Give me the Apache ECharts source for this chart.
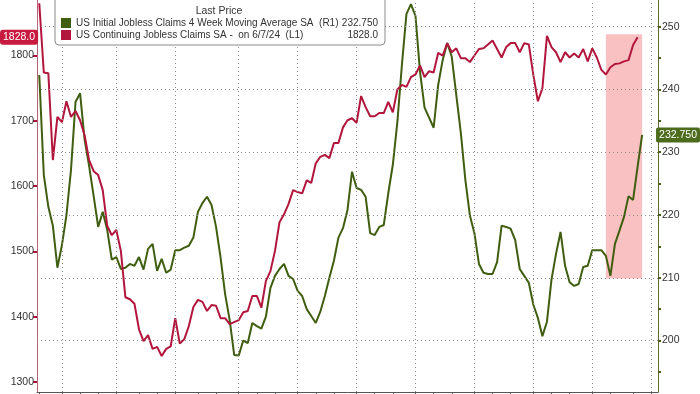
<!DOCTYPE html>
<html><head><meta charset="utf-8">
<script src="https://cdn.jsdelivr.net/npm/echarts@6/dist/echarts.min.js"></script>
<style>html,body{margin:0;padding:0;background:#fff}#c{width:700px;height:394px}</style>
</head><body><div id="c"></div>
<script>
// ---- data ----
const firstWeek = '2021-11-27';   // week-ending Saturdays
const weekCount = 137;
const continuingClaims = [1880,1774,1773,1640,1706,1698,1730,1706,1715,1701,
 1678,1640,1623,1617,1594,1539,1525,1533,1501,1430,
 1427,1420,1381,1363,1372,1351,1354,1340,1351,1355,
 1398,1359,1366,1386,1415,1426,1423,1409,1418,1417,
 1398,1398,1389,1392,1395,1407,1409,1432,1432,1414,
 1455,1470,1501,1545,1557,1573,1594,1591,1589,1609,
 1605,1635,1645,1648,1643,1666,1666,1690,1701,1704,
 1697,1738,1721,1707,1707,1712,1712,1729,1713,1748,
 1755,1752,1767,1771,1785,1767,1776,1774,1804,1800,
 1819,1805,1811,1796,1796,1790,1800,1810,1811,1817,
 1823,1810,1797,1813,1819,1819,1805,1819,1817,1770,
 1730,1750,1830,1813,1805,1790,1805,1797,1803,1797,
 1810,1791,1811,1797,1778,1771,1782,1787,1788,1791,
 1793,1816,1828];
const initialClaims4wk = [242.3,226.4,221.3,218.3,211.6,215.2,220.0,227.2,238.0,239.4,
 232.0,227.8,223.0,218.1,220.5,217.6,212.9,213.3,211.4,211.6,
 212.2,211.9,213.3,211.3,214.6,215.4,211.1,213.0,210.8,211.3,
 214.4,214.4,214.8,215.1,216.4,220.5,221.9,222.9,221.6,218.1,
 213.2,207.4,203.3,197.7,197.6,200.0,199.6,202.8,202.3,201.9,
 203.8,208.4,210.3,211.4,212.2,210.3,209.8,207.9,207.1,205.0,
 203.9,202.8,204.6,207.1,210.0,212.7,216.4,217.9,220.8,226.9,
 224.3,224.0,222.9,217.1,216.8,218.1,218.4,223.5,228.0,234.8,
 243.9,252.0,253.6,251.7,242.8,237.1,235.5,233.9,240.7,244.7,
 247.4,245.2,239.1,233.1,225.6,219.9,217.1,212.2,210.8,210.6,
 210.6,212.5,218.3,218.1,217.8,216.0,211.4,210.3,209.2,205.7,
 203.6,200.7,203.0,209.7,213.8,217.3,211.9,209.3,208.7,209.0,
 211.7,211.9,214.4,214.4,214.4,213.5,210.3,215.4,217.5,219.7,
 223.0,222.4,227.7,232.75];
const seriesNames = ['US Initial Jobless Claims 4 Week Moving Average SA', 'US Continuing Jobless Claims SA -  on 6/7/24'];
const seriesAxisTags = ['(R1)', '(L1)'];
const leftTicks = [1300,1400,1500,1600,1700,1800];
const rightTicks = [200,210,220,230,240,250];
const rightMinorTicks = [195,205,215,225,235,245];
const leftRange = [1285,1885];
const rightRange = [191.8,254.25];
const highlightWeeks = ['2024-04-20','2024-06-15'];
const highlightRight = [209.9,248.8];

// ---- build ----
function addDays(s, n){ const t = new Date(s + 'T00:00:00Z'); t.setUTCDate(t.getUTCDate() + n); return t; }
const weeks = [];
for (let i = 0; i < weekCount; i++) weeks.push(addDays(firstWeek, 7 * i).toISOString().slice(0,10));
const isMonthTick = v => addDays(v, 6).getUTCDate() <= 7;
const isQuarterTick = v => { const t = addDays(v, 6); return t.getUTCDate() <= 7 && t.getUTCMonth() % 3 === 0; };
const quarterWeeks = weeks.filter(isQuarterTick);

const FONT = "'Liberation Sans',Arial,sans-serif";
const RED = '#b3163d', GREEN = '#3f5e10';
const lastRed = continuingClaims[continuingClaims.length - 1];
const lastGreen = initialClaims4wk[initialClaims4wk.length - 1];
const lastValues = {};
lastValues[seriesNames[0]] = lastGreen.toFixed(3);
lastValues[seriesNames[1]] = lastRed.toFixed(1);
const tags = {}; tags[seriesNames[0]] = seriesAxisTags[0]; tags[seriesNames[1]] = seriesAxisTags[1];
const nulls = weeks.map(() => null);
const gridDot = {type: [1, 3], color: '#8c8c8c', width: 1};

const chart = echarts.init(document.getElementById('c'), null, {renderer: 'canvas'});
chart.setOption({
  animation: false,
  backgroundColor: '#fff',
  textStyle: {fontFamily: FONT},
  title: {
    text: 'Last Price', left: 219, top: 6, textAlign: 'center', padding: 0, z: 10,
    textStyle: {fontSize: 10.5, fontWeight: 'normal', color: '#333', fontFamily: FONT}
  },
  legend: {
    data: [seriesNames[0], seriesNames[1]],
    orient: 'vertical', left: 55, top: -6,
    padding: [23, 7, 4, 6], itemGap: 0,
    icon: 'rect', itemWidth: 10, itemHeight: 10,
    backgroundColor: '#fff', borderColor: '#8a8a8a', borderWidth: 1, borderRadius: 4,
    selectedMode: false, z: 8,
    formatter: name => '{n|' + name + '  ' + tags[name] + '}{v|' + lastValues[name] + '}',
    textStyle: {
      fontFamily: FONT, fontSize: 10, color: '#333', lineHeight: 12,
      rich: {
        n: {width: 260, fontFamily: FONT, fontSize: 10, color: '#333', lineHeight: 12},
        v: {width: 42, align: 'right', fontFamily: FONT, fontSize: 10, color: '#333', lineHeight: 12}
      }
    }
  },
  grid: {left: 37, right: 42, top: 0, bottom: 2, containLabel: false, outerBoundsMode: 'none'},
  xAxis: {
    type: 'category', data: weeks, boundaryGap: true,
    axisLine: {lineStyle: {color: '#555', width: 1}},
    axisTick: {show: true, alignWithLabel: true, interval: (i, v) => isMonthTick(v), length: 3, lineStyle: {color: '#555'}},
    axisLabel: {show: false},
    splitLine: {show: false}
  },
  yAxis: [
    {
      type: 'value', position: 'left', min: leftRange[0], max: leftRange[1],
      axisLine: {show: true, lineStyle: {color: '#b86476', width: 1}},
      axisTick: {show: true, customValues: leftTicks, length: 4, lineStyle: {color: '#a8123a', width: 2}},
      axisLabel: {customValues: leftTicks, formatter: v => String(v), color: '#333', fontSize: 10.5, fontFamily: FONT, margin: 3},
      splitLine: {show: false},
      axisPointer: {
        show: true, type: 'none', value: lastRed, status: 'show', triggerTooltip: false,
        label: {show: true, formatter: () => lastRed.toFixed(1), backgroundColor: '#c8193f', color: '#fff',
          padding: [2, 3, 2, 3], borderRadius: 3, margin: 1, fontSize: 10.5, fontFamily: FONT}
      }
    },
    {
      type: 'value', position: 'right', min: rightRange[0], max: rightRange[1],
      axisLine: {show: true, lineStyle: {color: '#5b6b2b', width: 1}},
      axisTick: {show: true, customValues: rightTicks.concat(rightMinorTicks), length: 3, lineStyle: {color: '#4a5e1c', width: 2}},
      axisLabel: {customValues: rightTicks, formatter: v => String(v), color: '#333', fontSize: 10.5, fontFamily: FONT, margin: 4},
      splitLine: {show: false},
      axisPointer: {
        show: true, type: 'none', value: lastGreen, status: 'show', triggerTooltip: false,
        label: {show: true, formatter: () => lastGreen.toFixed(3), backgroundColor: '#4c6b1c', color: '#fff',
          padding: [2, 3, 2, 3], borderRadius: 2, margin: 3, fontSize: 10.5, fontFamily: FONT}
      }
    }
  ],
  series: [
    {
      name: 'grid', type: 'line', data: nulls, yAxisIndex: 1, z: 1, silent: true,
      markLine: {
        silent: true, symbol: 'none', label: {show: false}, animation: false,
        lineStyle: gridDot, emphasis: {disabled: true},
        data: quarterWeeks.map(w => ({xAxis: w})).concat(rightTicks.map(v => ({yAxis: v})))
      }
    },
    {
      name: seriesNames[0], type: 'line', data: initialClaims4wk, yAxisIndex: 1, z: 2,
      showSymbol: false, symbol: 'none', color: GREEN,
      lineStyle: {color: GREEN, width: 2}
    },
    {
      name: seriesNames[1], type: 'line', data: continuingClaims, yAxisIndex: 0, z: 2,
      showSymbol: false, symbol: 'none', color: RED,
      lineStyle: {color: RED, width: 2}
    },
    {
      name: 'highlight', type: 'line', data: nulls, yAxisIndex: 1, z: 3, silent: true,
      markArea: {
        silent: true, itemStyle: {color: 'rgba(240,100,100,0.4)'},
        data: [[{xAxis: highlightWeeks[0], yAxis: highlightRight[0]}, {xAxis: highlightWeeks[1], yAxis: highlightRight[1]}]]
      }
    }
  ]
});
</script></body></html>
